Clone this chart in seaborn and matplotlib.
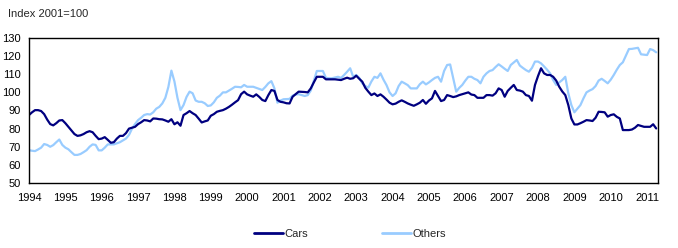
import numpy as np
import pandas as pd
import matplotlib
matplotlib.use("Agg")
import matplotlib.pyplot as plt
import seaborn as sns

start_year = 1994
n_months = 208  # Jan 1994 .. Apr 2011

cars = [
    87.5, 89, 90.2, 90.2, 89.7, 88, 85, 82.5, 81.8, 83, 84.5, 84.7,
    83, 81, 79, 77, 76, 76.3, 77, 78, 78.6, 78, 76, 74.2,
    74.5, 75.3, 73.8, 72.2, 72.5, 74.5, 76, 76, 77.5, 80, 80.5, 81,
    82.5, 83.5, 84.7, 84.5, 84, 85.6, 85.5, 85.2, 85.1, 84.5, 83.8, 85.2,
    82.4, 83.5, 81.6, 87.5, 88.5, 89.7, 88.5, 87.5, 85.5, 83.4, 84, 84.5,
    87.1, 88, 89.3, 89.8, 90.2, 91, 92, 93.2, 94.5, 95.7, 99, 100.4,
    98.9, 98.2, 97.6, 98.9, 97.5, 95.8, 95.2, 98.5, 101.3, 100.8, 95.8, 94.8,
    94.5, 94, 93.9, 97.6, 99, 100.4, 100.3, 100.2, 100, 102.2, 105.5, 108.6,
    108.6, 108.6, 107.2, 107.2, 107.2, 107.2, 107, 106.8, 107.5, 108.1, 107.5, 107.8,
    109.2, 107.5, 105.9, 102.5, 100.4, 98.5, 99.4, 98, 98.9, 97.6, 96, 94.3,
    93.4, 93.8, 94.8, 95.6, 94.8, 93.9, 93.2, 92.6, 93.4, 94.3, 95.8, 93.7,
    95.5, 96.7, 100.8, 98, 95.2, 95.8, 98.5, 98, 97.4, 97.8, 98.5, 99,
    99.5, 100, 98.8, 98.5, 97, 97, 97, 98.5, 98.5, 98.2, 99.5, 102.2,
    101.3, 97.6, 100.8, 102.5, 104.1, 101.3, 101, 100.4, 98.5, 98, 95.4, 104.1,
    109, 113.3, 110.5, 109.6, 109.6, 108.6, 106.5, 103.1, 100.5, 98.5, 93, 85.6,
    82.3, 82.3, 83, 83.8, 84.7, 84.5, 84.2, 86, 89.3, 89.2, 89, 86.6,
    87.5, 87.9, 86.5, 85.6, 79.2, 79.2, 79.2, 79.5, 80.5, 82, 81.5, 81,
    81, 81, 82.4, 80.1,
]

others = [
    68.1, 67.8, 67.6, 68.5, 69.5, 71.5, 71, 70, 70.9, 72.5, 74, 71,
    69.5, 68.6, 67, 65.5, 65.5, 66, 67, 68.1, 70, 71.3, 71, 68,
    68, 69.5, 71.3, 71.3, 71.3, 71.9, 72.5, 73.5, 74.5, 76.5, 80, 82.5,
    84.7, 86, 87.5, 88, 87.8, 89, 91, 92, 93.9, 97, 103, 112,
    106, 97, 90.2, 93, 97.5, 100.4, 99.5, 95.5, 94.8, 94.8, 94, 92.5,
    92.8, 94.5, 97, 98.2, 100, 100, 101, 102, 103.1, 103, 102.8, 104.1,
    103.1, 103.1, 103.1, 102.5, 101.9, 101.3, 103, 105, 106.2, 102.2, 94.3, 95.5,
    96.2, 96.3, 96.4, 98.2, 98.8, 99, 98.5, 98, 98.5, 101, 106.5, 111.8,
    111.8, 111.8, 108, 107.8, 107.8, 108.2, 108.6, 108, 109.6, 111.4, 113.3, 108.6,
    109.6, 108, 105, 103.5, 102.6, 106, 108.6, 108, 110.5, 107, 104, 100,
    98, 99.5, 103.5, 105.9, 105, 104, 102.2, 102.2, 102.2, 104.5, 105.9, 104.4,
    105.5, 106.8, 108, 108.6, 105.9, 111.8, 115.1, 115.4, 108, 100.4, 102.5, 104.1,
    106.5, 108.6, 108.6, 107.5, 106.8, 105, 108.6, 110.5, 111.8, 112.3, 114, 115.5,
    114.3, 113, 111.8, 115.1, 116.5, 117.9, 114.8, 113.5, 112.3, 111.4, 113.5, 117,
    117, 116, 114.3, 112.5, 110.5, 106.8, 104.1, 105.5, 106.8, 108.6, 99.5, 93,
    89, 91, 93, 96.7, 100, 101, 101.8, 103.5, 106.5, 107.5, 106.3, 105,
    107, 109.6, 112.5, 115.1, 116.6, 120.2, 123.9, 124, 124.3, 124.6, 121, 120.8,
    120.6, 123.9, 123.3, 122.1,
]

series_names = ["Cars", "Others"]
colors = ["#000080", "#99ccff"]
year_ticks = list(range(1994, 2012))
y_ticks = [50, 60, 70, 80, 90, 100, 110, 120, 130]
y_label = "Index 2001=100"

t = [start_year + m / 12 for m in range(n_months)]
df = pd.DataFrame({
    "t": t * 2,
    "value": cars + others,
    "series": ["Cars"] * n_months + ["Others"] * n_months,
})

sns.set_style("white")
plt.rcParams["font.family"] = ["Liberation Sans", "DejaVu Sans"]

fig = plt.figure(figsize=(6.78, 2.48), dpi=100)
ax = fig.add_axes([29 / 678, 1 - 183 / 248, (658 - 29) / 678, (183 - 38) / 248])

sns.lineplot(data=df, x="t", y="value", hue="series", hue_order=series_names[::-1],
             palette=dict(zip(series_names, colors)), linewidth=1.6, ax=ax, legend=False)

ax.set_xlim(1994, 1994 + 207.6 / 12)
ax.set_ylim(50, 130)
ax.set_xticks(year_ticks)
ax.set_xticklabels([str(y) for y in year_ticks])
ax.set_yticks(y_ticks)
ax.set_xlabel("")
ax.set_ylabel("")
ax.tick_params(axis="both", direction="in", length=3, width=0.8, labelsize=8,
               colors="black")
ax.tick_params(axis="y", pad=6)
ax.tick_params(axis="x", pad=7)
for s in ax.spines.values():
    s.set_color("black")
    s.set_linewidth(1.0)
    s.set_visible(True)

fig.text(8 / 678, 1 - 14 / 248, y_label, fontsize=8, va="center", ha="left")

from matplotlib.lines import Line2D
handles = [Line2D([0], [0], color=c, lw=2) for c in colors]
fig.legend(handles, series_names, loc="center", bbox_to_anchor=(350 / 678, 1 - 234 / 248),
           ncol=2, frameon=False, fontsize=8, handlelength=2.6, handletextpad=0.2,
           columnspacing=6.6)

fig.savefig("out.png", dpi=100)
